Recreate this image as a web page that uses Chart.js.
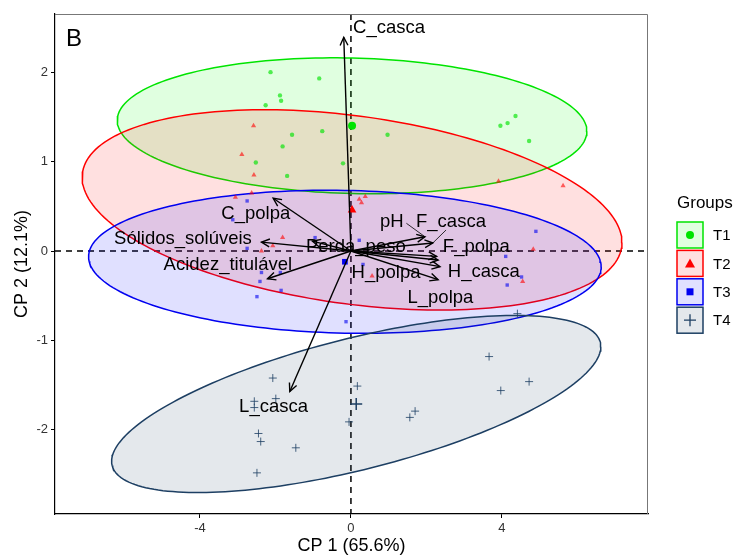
<!DOCTYPE html>
<html><head><meta charset="utf-8">
<script src="https://cdn.jsdelivr.net/npm/chart.js@4.4.1/dist/chart.umd.min.js"></script>
<style>html,body{margin:0;padding:0;background:#fff}#wrap{width:738px;height:557px;position:relative}</style>
</head><body><div id="wrap"><canvas id="c"></canvas></div>
<script>
// ---- data ----
const groups = ['T1', 'T2', 'T3', 'T4'];
const t1X = [-2.13, -0.84, -1.88, -1.85, -2.26, -1.56, -0.76, 0.97, -1.81, -2.52, -0.21, -1.69, 3.96, 4.15, 4.36, 4.72];
const t1Y = [2.00, 1.93, 1.74, 1.68, 1.63, 1.30, 1.34, 1.30, 1.17, 0.99, 0.98, 0.84, 1.40, 1.43, 1.51, 1.23];
const t2X = [-2.58, -2.89, -2.57, 3.91, 5.62, -3.06, -2.63, -1.81, -2.07, -2.37, 0.56, 0.22, 0.38, 0.28, 4.83, 4.55];
const t2Y = [1.40, 1.08, 0.85, 0.78, 0.73, 0.60, 0.65, 0.15, 0.06, 0.00, -0.28, 0.58, 0.61, 0.54, 0.02, -0.34];
const t3X = [-2.75, -3.13, -0.95, 0.22, -2.75, -2.37, -1.87, -2.41, -1.85, -2.49, 0.32, -0.13, 4.90, 4.10, 4.52, 4.14];
const t3Y = [0.56, 0.35, 0.15, 0.12, 0.03, -0.24, -0.24, -0.34, -0.44, -0.51, -0.15, -0.79, 0.22, -0.06, -0.29, -0.38];
const t4X = [-2.07, -1.99, -2.56, -2.56, -2.45, -2.39, -1.46, -2.49, 0.17, -0.05, 1.70, 1.56, 3.66, 3.97, 4.72, 4.41];
const t4Y = [-1.42, -1.65, -1.68, -1.75, -2.04, -2.13, -2.20, -2.48, -1.51, -1.91, -1.79, -1.86, -1.18, -1.56, -1.46, -0.70];
// group centroids (ellipse centres)
const centroidX = [0.03, 0.03, -0.16, 0.14];
const centroidY = [1.40, 0.46, -0.12, -1.71];
// ellipse half-extents along CP1 / CP2 and correlation
const ellipseSx = [6.22, 7.15, 6.79, 6.48];
const ellipseSy = [0.76, 1.12, 0.80, 0.99];
const ellipseRho = [-0.08, -0.325, -0.07, 0.647];
// variable loadings (arrow tips)
const varNames = ['C_casca', 'C_polpa', 'Sólidos_solúveis', 'Acidez_titulável', 'Perda_peso', 'pH', 'F_casca', 'F_polpa', 'H_polpa', 'H_casca', 'L_polpa', 'L_casca'];
const varX = [-0.19, -2.06, -2.37, -2.21, -1.02, 1.96, 2.17, 2.27, 2.31, 2.36, 2.31, -1.62];
const varY = [2.39, 0.59, 0.10, -0.31, 0.11, 0.16, 0.09, -0.06, -0.10, -0.175, -0.32, -1.57];
// label anchor positions (data units, repelled)
const labelX = [1.01, -2.52, -4.45, -3.26, 0.13, 1.08, 2.65, 3.32, 0.93, 3.52, 2.37, -2.05];
const labelY = [2.49, 0.42, 0.13, -0.16, 0.045, 0.33, 0.33, 0.05, -0.25, -0.235, -0.525, -1.74];
// repel segment start points for pH and F_casca labels
const segFromX = [1.47, 2.52];
const segFromY = [0.31, 0.235];
const segVar = [5, 6];
const xTicks = [-4, 0, 4];
const yTicks = [-2, -1, 0, 1, 2];

// ---- styles ----
const lineCol = ['#00E400', '#FF0000', '#0000F0', '#1D3F63'];
const fillCol = ['rgba(0,255,0,0.12)', 'rgba(255,0,0,0.12)', 'rgba(0,0,255,0.12)', 'rgba(29,63,99,0.12)'];
const ptCol = ['rgba(0,228,0,0.65)', 'rgba(255,0,0,0.6)', 'rgba(0,0,240,0.6)', 'rgba(29,63,99,0.8)'];
const ptStyle = ['circle', 'triangle', 'rect', 'cross'];
const ptRad = [2.2, 3, 2.4, 4];
const cRad = [4, 5, 4, 6];
const FONT = "'Liberation Sans', Arial, sans-serif";

function toPts(xs, ys) { return xs.map((x, i) => ({ x, y: ys[i] })); }
function ellipse(i, n = 200) {
  const cx = centroidX[i], cy = centroidY[i], sx = ellipseSx[i], sy = ellipseSy[i], r = ellipseRho[i];
  const k = Math.sqrt(1 - r * r), pts = [];
  for (let j = 0; j <= n; j++) {
    const t = 2 * Math.PI * j / n;
    pts.push({ x: cx + sx * Math.cos(t), y: cy + sy * (r * Math.cos(t) + k * Math.sin(t)) });
  }
  return pts;
}
const groupX = [t1X, t2X, t3X, t4X], groupY = [t1Y, t2Y, t3Y, t4Y];
const datasets = [];
groups.forEach((g, i) => {
  datasets.push({ label: g + ' ellipse', data: ellipse(i), showLine: true, fill: 'shape', tension: 0,
    backgroundColor: fillCol[i], borderColor: lineCol[i], borderWidth: 1.5, pointRadius: 0, order: 20 - i });
});
groups.forEach((g, i) => {
  datasets.push({ label: g, data: toPts(groupX[i], groupY[i]), pointStyle: ptStyle[i], pointRadius: ptRad[i],
    backgroundColor: ptCol[i], borderColor: ptCol[i], borderWidth: i === 3 ? 1 : 0, order: 10 - i });
  datasets.push({ label: g + ' mean', data: [{ x: centroidX[i], y: centroidY[i] }], pointStyle: ptStyle[i], pointRadius: cRad[i],
    backgroundColor: lineCol[i], borderColor: lineCol[i], borderWidth: i === 3 ? 1.5 : 0, order: 5 - i });
});

function arrow(ctx, x0, y0, x1, y1) {
  ctx.beginPath(); ctx.moveTo(x0, y0); ctx.lineTo(x1, y1); ctx.stroke();
  const a = Math.atan2(y1 - y0, x1 - x0), L = 9, w = 0.45;
  ctx.beginPath();
  ctx.moveTo(x1 - L * Math.cos(a - w), y1 - L * Math.sin(a - w));
  ctx.lineTo(x1, y1);
  ctx.lineTo(x1 - L * Math.cos(a + w), y1 - L * Math.sin(a + w));
  ctx.stroke();
}

const deco = {
  id: 'deco',
  beforeDatasetsDraw(chart) {
    const { ctx, chartArea: ca, scales: { x, y } } = chart;
    ctx.save();
    ctx.strokeStyle = '#000'; ctx.lineWidth = 1.5; ctx.setLineDash([6, 5]);
    const px = x.getPixelForValue(0), py = y.getPixelForValue(0);
    ctx.beginPath(); ctx.moveTo(px, ca.top); ctx.lineTo(px, ca.bottom); ctx.stroke();
    ctx.beginPath(); ctx.moveTo(ca.left, py); ctx.lineTo(ca.right, py); ctx.stroke();
    ctx.restore();
  },
  afterDatasetsDraw(chart) {
    const { ctx, chartArea: ca, scales: { x, y } } = chart;
    ctx.save();
    const ox = x.getPixelForValue(0), oy = y.getPixelForValue(0);
    ctx.strokeStyle = '#000'; ctx.lineWidth = 1.4; ctx.setLineDash([]);
    varNames.forEach((n, i) => arrow(ctx, ox, oy, x.getPixelForValue(varX[i]), y.getPixelForValue(varY[i])));
    ctx.lineWidth = 0.8;
    segVar.forEach((vi, k) => {
      ctx.beginPath(); ctx.moveTo(x.getPixelForValue(segFromX[k]), y.getPixelForValue(segFromY[k]));
      ctx.lineTo(x.getPixelForValue(varX[vi]), y.getPixelForValue(varY[vi])); ctx.stroke();
    });
    ctx.fillStyle = '#000'; ctx.font = '18.5px ' + FONT; ctx.textAlign = 'center'; ctx.textBaseline = 'middle';
    varNames.forEach((n, i) => ctx.fillText(n, x.getPixelForValue(labelX[i]), y.getPixelForValue(labelY[i])));
    // panel border
    ctx.strokeStyle = '#777'; ctx.lineWidth = 1;
    ctx.beginPath(); ctx.moveTo(ca.left, ca.top + 0.5); ctx.lineTo(ca.right - 0.5, ca.top + 0.5); ctx.lineTo(ca.right - 0.5, ca.bottom); ctx.stroke();
    // panel tag
    ctx.font = '24px ' + FONT; ctx.textAlign = 'left';
    ctx.fillText('B', ca.left + 11, ca.top + 25);
    // legend
    ctx.font = '17px ' + FONT; ctx.fillStyle = '#000';
    ctx.fillText('Groups', 677, 203);
    const bx = 677, bs = 26;
    groups.forEach((g, i) => {
      const by = 222 + i * 28.4;
      ctx.fillStyle = '#fff'; ctx.fillRect(bx, by, bs, bs);
      ctx.fillStyle = fillCol[i]; ctx.fillRect(bx, by, bs, bs);
      ctx.strokeStyle = lineCol[i]; ctx.lineWidth = 1.5; ctx.strokeRect(bx, by, bs, bs);
      ctx.fillStyle = lineCol[i]; ctx.strokeStyle = lineCol[i];
      const cxp = bx + bs / 2, cyp = by + bs / 2;
      ctx.beginPath();
      if (i === 0) { ctx.arc(cxp, cyp, 4, 0, 2 * Math.PI); ctx.fill(); }
      else if (i === 1) { ctx.moveTo(cxp, cyp - 5); ctx.lineTo(cxp + 5, cyp + 4); ctx.lineTo(cxp - 5, cyp + 4); ctx.closePath(); ctx.fill(); }
      else if (i === 2) { ctx.fillRect(cxp - 3.5, cyp - 3.5, 7, 7); }
      else { ctx.lineWidth = 1.3; ctx.moveTo(cxp - 6, cyp); ctx.lineTo(cxp + 6, cyp); ctx.moveTo(cxp, cyp - 6); ctx.lineTo(cxp, cyp + 6); ctx.stroke(); }
      ctx.fillStyle = '#000'; ctx.font = '15px ' + FONT; ctx.textAlign = 'left';
      ctx.fillText(g, 713, by + bs / 2 + 1);
    });
    ctx.restore();
  }
};

new Chart(document.getElementById('c'), {
  type: 'scatter',
  data: { datasets },
  options: {
    responsive: true, maintainAspectRatio: false, animation: false, events: [],
    layout: { padding: { top: 14, right: 90, left: 0, bottom: 0 } },
    plugins: { legend: { display: false }, tooltip: { enabled: false }, filler: { propagate: false } },
    scales: {
      x: {
        type: 'linear', min: -7.84, max: 7.87,
        afterBuildTicks: s => { s.ticks = xTicks.map(v => ({ value: v })); },
        afterFit: s => { s.height = 43; },
        ticks: { color: '#333', font: { size: 13, family: FONT }, padding: 3, maxRotation: 0, callback: v => String(v) },
        grid: { drawOnChartArea: false, drawTicks: true, tickLength: 4, color: '#000', lineWidth: 1 },
        border: { display: true, color: '#000', width: 1.2 },
        title: { display: true, text: 'CP 1 (65.6%)', color: '#000', font: { size: 18, family: FONT }, padding: { top: 0, bottom: 0 } }
      },
      y: {
        type: 'linear', min: -2.94, max: 2.65,
        afterBuildTicks: s => { s.ticks = yTicks.map(v => ({ value: v })); },
        afterFit: s => { s.width = 55; },
        ticks: { color: '#333', font: { size: 13, family: FONT }, padding: 3, callback: v => String(v) },
        grid: { drawOnChartArea: false, drawTicks: true, tickLength: 4, color: '#000', lineWidth: 1 },
        border: { display: true, color: '#000', width: 1.2 },
        title: { display: true, text: 'CP 2 (12.1%)', color: '#000', font: { size: 18, family: FONT }, padding: { top: 11, bottom: 0 } }
      }
    }
  },
  plugins: [deco]
});
</script></body></html>
